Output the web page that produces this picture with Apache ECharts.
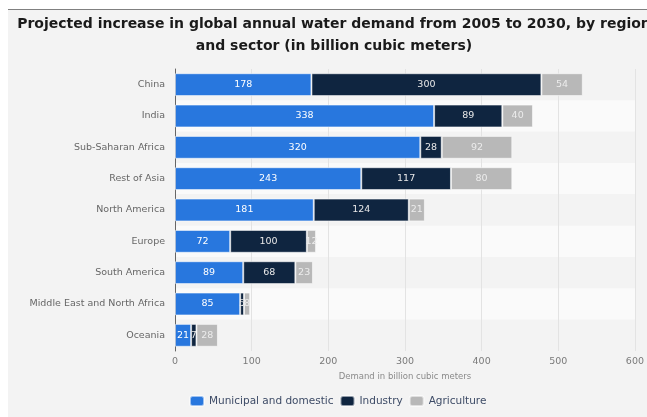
<!DOCTYPE html>
<html><head><meta charset="utf-8">
<script src="https://cdn.jsdelivr.net/npm/echarts@6/dist/echarts.min.js"></script>
<style>
html,body{margin:0;padding:0;background:#fff;width:647px;height:417px;overflow:hidden;}
#bg{position:absolute;left:8px;top:9px;right:0;bottom:0;background:#f3f3f3;border-top:1px solid #808080;}
#c{position:absolute;left:0;top:0;width:647px;height:417px;}
</style></head>
<body><div id="bg"></div><div id="c"></div>
<script>
var categories = ['China','India','Sub-Saharan Africa','Rest of Asia','North America','Europe','South America','Middle East and North Africa','Oceania'];
var municipal = [178,338,320,243,181,72,89,85,21];
var industry = [300,89,28,117,124,100,68,5,7];
var agriculture = [54,40,92,80,21,12,23,8,28];
var xTicks = [0,100,200,300,400,500,600];

var chart = echarts.init(document.getElementById('c'), null, {renderer:'canvas'});
var FONT = 'DejaVu Sans';
function mk(name, data, color, labelColor){
  return {
    name:name, type:'bar', stack:'total', data:data, barWidth:'73%',
    itemStyle:{color:color, borderColor:'rgba(255,255,255,0.55)', borderWidth:1},
    label:{show:true, position:'inside', color:labelColor, fontFamily:FONT, fontSize:9.5},
    emphasis:{disabled:true}
  };
}
chart.setOption({
  animation:false,
  backgroundColor:'transparent',
  textStyle:{fontFamily:FONT},
  graphic:[
    {type:'text', x:334, y:24.5, style:{text:'Projected increase in global annual water demand from 2005 to 2030, by region', font:'bold 14px "DejaVu Sans"', fill:'#1a1a1a', textAlign:'center', textVerticalAlign:'middle'}},
    {type:'text', x:334, y:46.5, style:{text:'and sector (in billion cubic meters)', font:'bold 14px "DejaVu Sans"', fill:'#1a1a1a', textAlign:'center', textVerticalAlign:'middle'}}
  ],
  grid:{left:175, right:10, top:69, bottom:66, containLabel:false},
  xAxis:{
    type:'value', min:xTicks[0], max:xTicks[xTicks.length-1], interval:100,
    name:'Demand in billion cubic meters', nameLocation:'middle', nameGap:20,
    nameTextStyle:{color:'#8a8a8a', fontSize:8.5, fontFamily:FONT},
    axisLine:{show:false}, axisTick:{show:false},
    axisLabel:{color:'#7a7a7a', fontSize:9.5, fontFamily:FONT, margin:6},
    splitLine:{show:true, lineStyle:{color:'#e3e3e3', width:1}}
  },
  yAxis:{
    type:'category', data:categories, inverse:true,
    axisLine:{show:true, lineStyle:{color:'#666', width:1}},
    axisTick:{show:false},
    axisLabel:{color:'#666', fontSize:9.5, fontFamily:FONT, margin:10},
    splitArea:{show:true, areaStyle:{color:['#f3f3f3','#fafafa']}}
  },
  legend:{
    top:390, left:184, itemWidth:14, itemHeight:10, itemGap:6,
    icon:'roundRect',
    textStyle:{color:'#3d4b66', fontSize:10.5, fontFamily:FONT},
    data:['Municipal and domestic','Industry','Agriculture']
  },
  series:[
    mk('Municipal and domestic', municipal, '#2877de', '#ffffff'),
    mk('Industry', industry, '#0f2540', '#e8e8e8'),
    mk('Agriculture', agriculture, '#b8b8b8', '#ececec')
  ]
});
</script></body></html>
